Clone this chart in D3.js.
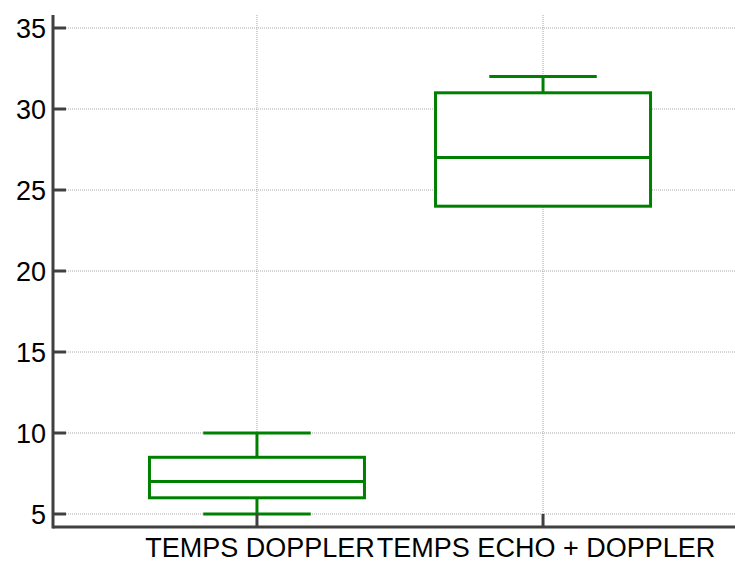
<!DOCTYPE html>
<html>
<head>
<meta charset="utf-8">
<script src="https://cdn.jsdelivr.net/npm/d3@7"></script>
<style>
  body { margin: 0; background: #fff; }
  text { font-family: "Liberation Sans", Arial, sans-serif; fill: #000; }
</style>
</head>
<body>
<script>
//categories and box statistics
var categories = ["TEMPS DOPPLER", "TEMPS ECHO + DOPPLER"];
var whiskerLow  = [5, 24];
var q1          = [6, 24];
var medians     = [7, 27];
var q3          = [8.5, 31];
var whiskerHigh = [10, 32];
var yTicks = [5, 10, 15, 20, 25, 30, 35];

window.onload = drawChart();

function drawChart(){

    var width = 735,
        height = 563;

    var svg = d3.select("body")
        .append("svg")
        .attr("width", width)
        .attr("height", height);

    var axisX = 53,
        axisY = 527,
        top = 15;

    //y scale: 5 sits at 514, 35 at 28
    var y = d3.scaleLinear()
        .domain([5, 35])
        .range([514, 28]);

    var x = d3.scalePoint()
        .domain(categories)
        .range([axisX, 747])
        .padding(0.713);

    var boxWidth = 215;

    //horizontal gridlines
    svg.selectAll(".hgrid")
        .data(yTicks)
        .enter()
        .append("line")
        .attr("class", "hgrid")
        .attr("x1", axisX + 13)
        .attr("x2", width)
        .attr("y1", function(d){ return y(d); })
        .attr("y2", function(d){ return y(d); })
        .attr("stroke", "#aaa")
        .attr("stroke-width", 1)
        .attr("stroke-dasharray", "1,1");

    //vertical gridlines
    svg.selectAll(".vgrid")
        .data(categories)
        .enter()
        .append("line")
        .attr("class", "vgrid")
        .attr("x1", function(d){ return x(d); })
        .attr("x2", function(d){ return x(d); })
        .attr("y1", top)
        .attr("y2", axisY)
        .attr("stroke", "#aaa")
        .attr("stroke-width", 1)
        .attr("stroke-dasharray", "1,1");

    //boxes
    var boxes = svg.selectAll(".box")
        .data(categories)
        .enter()
        .append("g")
        .attr("class", "box");

    var green = "#008000";

    boxes.append("line") //whisker stem
        .attr("x1", function(d){ return x(d); })
        .attr("x2", function(d){ return x(d); })
        .attr("y1", function(d, i){ return y(whiskerLow[i]); })
        .attr("y2", function(d, i){ return y(whiskerHigh[i]); })
        .attr("stroke", green)
        .attr("stroke-width", 3);

    boxes.append("rect")
        .attr("x", function(d){ return x(d) - boxWidth / 2; })
        .attr("width", boxWidth)
        .attr("y", function(d, i){ return y(q3[i]); })
        .attr("height", function(d, i){ return y(q1[i]) - y(q3[i]); })
        .attr("fill", "#fff")
        .attr("stroke", green)
        .attr("stroke-width", 3);

    boxes.append("line") //median
        .attr("x1", function(d){ return x(d) - boxWidth / 2; })
        .attr("x2", function(d){ return x(d) + boxWidth / 2; })
        .attr("y1", function(d, i){ return y(medians[i]); })
        .attr("y2", function(d, i){ return y(medians[i]); })
        .attr("stroke", green)
        .attr("stroke-width", 3);

    [whiskerLow, whiskerHigh].forEach(function(arr){
        boxes.filter(function(d, i){ return arr[i] !== q1[i] && arr[i] !== q3[i]; })
            .append("line")
            .attr("x1", function(d){ return x(d) - boxWidth / 4; })
            .attr("x2", function(d){ return x(d) + boxWidth / 4; })
            .attr("y1", function(d){ return y(arr[categories.indexOf(d)]); })
            .attr("y2", function(d){ return y(arr[categories.indexOf(d)]); })
            .attr("stroke", green)
            .attr("stroke-width", 3);
    });

    //y axis ticks (inside) and labels
    svg.selectAll(".ytick")
        .data(yTicks)
        .enter()
        .append("line")
        .attr("x1", axisX)
        .attr("x2", axisX + 13)
        .attr("y1", function(d){ return y(d); })
        .attr("y2", function(d){ return y(d); })
        .attr("stroke", "#404040")
        .attr("stroke-width", 3);

    svg.selectAll(".ylabel")
        .data(yTicks)
        .enter()
        .append("text")
        .attr("x", axisX - 7)
        .attr("y", function(d){ return y(d); })
        .attr("dy", "0.36em")
        .attr("text-anchor", "end")
        .style("font-size", "27px")
        .text(function(d){ return d; });

    //x axis ticks (inside) and labels
    svg.selectAll(".xtick")
        .data(categories)
        .enter()
        .append("line")
        .attr("x1", function(d){ return x(d); })
        .attr("x2", function(d){ return x(d); })
        .attr("y1", axisY)
        .attr("y2", axisY - 13)
        .attr("stroke", "#404040")
        .attr("stroke-width", 3);

    svg.selectAll(".xlabel")
        .data(categories)
        .enter()
        .append("text")
        .attr("x", function(d){ return x(d) + 3; })
        .attr("y", 557)
        .attr("text-anchor", "middle")
        .style("font-size", "27px")
        .text(function(d){ return d; });

    //axis lines
    svg.append("line")
        .attr("x1", axisX)
        .attr("x2", axisX)
        .attr("y1", top)
        .attr("y2", axisY + 1.5)
        .attr("stroke", "#404040")
        .attr("stroke-width", 3);

    svg.append("line")
        .attr("x1", axisX)
        .attr("x2", width)
        .attr("y1", axisY)
        .attr("y2", axisY)
        .attr("stroke", "#404040")
        .attr("stroke-width", 3);
}
</script>
</body>
</html>
